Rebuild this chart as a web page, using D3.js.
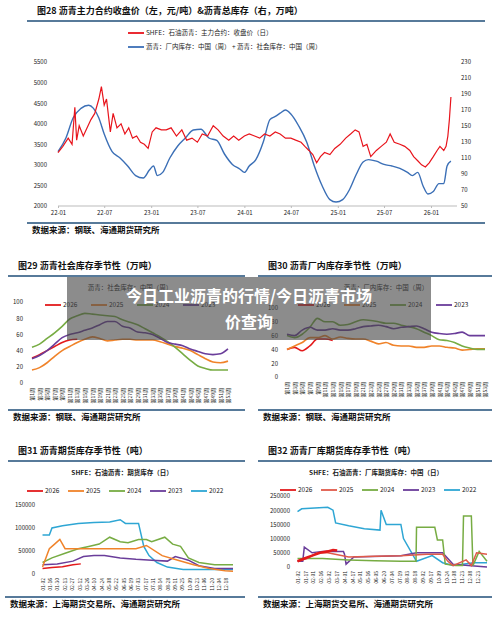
<!DOCTYPE html>
<html>
<head>
<meta charset="utf-8">
<style>
  body { margin: 0; background: #fff; }
  svg text { font-family: "Noto Sans CJK SC", "Noto Sans", sans-serif; }
  .tick text { font-size: 6px; fill: #222; }
  .domain { stroke: #bbb; }
  .tick line { stroke: #bbb; }
  .title { font-size: 9px; font-weight: 700; fill: #111; }
  .src { font-size: 8.5px; font-weight: 700; fill: #111; }
  .leg { font-size: 6.5px; fill: #222; }
</style>
</head>
<body>
<svg id="chart" width="500" height="617"></svg>
<script src="https://cdnjs.cloudflare.com/ajax/libs/d3/7.8.5/d3.min.js"></script>
<script>
// ---- fig 28: price (monthly-ish) and total inventory
var priceDates = ["2022-01-01","2022-01-20","2022-02-10","2022-02-25","2022-03-08","2022-03-15","2022-03-25","2022-04-10","2022-04-25","2022-05-10","2022-05-25","2022-06-10","2022-06-20","2022-07-01","2022-07-10","2022-07-25","2022-08-05","2022-08-20","2022-09-05","2022-09-20","2022-10-05","2022-10-20","2022-11-05","2022-11-20","2022-12-05","2022-12-20","2023-01-05","2023-01-20","2023-02-10","2023-03-01","2023-03-20","2023-04-10","2023-05-01","2023-05-20","2023-06-10","2023-07-01","2023-07-20","2023-08-10","2023-09-01","2023-09-20","2023-10-10","2023-11-01","2023-11-20","2023-12-10","2024-01-01","2024-01-20","2024-02-10","2024-03-01","2024-03-20","2024-04-10","2024-05-01","2024-05-20","2024-06-10","2024-07-01","2024-07-20","2024-08-10","2024-08-25","2024-09-10","2024-09-25","2024-10-10","2024-10-25","2024-11-10","2024-12-01","2024-12-20","2025-01-10","2025-02-01","2025-02-20","2025-03-10","2025-03-25","2025-04-10","2025-04-25","2025-05-10","2025-06-01","2025-06-20","2025-07-10","2025-07-25","2025-08-10","2025-09-01","2025-09-20","2025-10-10","2025-10-25","2025-11-10","2025-11-25","2025-12-10","2025-12-25","2026-01-10","2026-01-25","2026-02-05","2026-02-20","2026-03-01","2026-03-08","2026-03-14","2026-03-20"];
var priceVals = [3300,3450,3650,3500,4400,3600,3950,3700,3900,4100,4250,4600,4900,4450,4600,3800,4250,3900,4000,3750,3900,3650,3700,3550,3500,3400,3800,3900,3850,3850,3900,3700,3850,3600,3650,3550,3750,3700,3950,3850,3700,3600,3700,3600,3700,3750,3700,3650,3750,3700,3800,3750,3650,3650,3600,3550,3450,3350,3250,3050,3200,3300,3250,3400,3500,3650,3750,3850,3800,3450,3500,3200,3350,3450,3550,3750,3550,3500,3450,3350,3200,3100,3000,2950,3050,3200,3350,3450,3350,3450,3700,4100,4650];
var invDates = ["2022-01-01","2022-02-01","2022-03-01","2022-04-01","2022-05-01","2022-05-20","2022-06-10","2022-07-01","2022-08-01","2022-09-01","2022-10-01","2022-11-01","2022-12-01","2022-12-25","2023-01-10","2023-01-25","2023-02-15","2023-03-15","2023-04-15","2023-05-15","2023-06-15","2023-07-15","2023-08-15","2023-09-15","2023-10-15","2023-11-15","2023-12-15","2024-01-01","2024-01-20","2024-02-15","2024-03-15","2024-04-10","2024-05-01","2024-05-20","2024-06-10","2024-07-01","2024-08-01","2024-09-01","2024-10-01","2024-11-01","2024-12-01","2024-12-25","2025-01-20","2025-02-15","2025-03-15","2025-04-10","2025-05-01","2025-06-01","2025-07-01","2025-08-01","2025-09-01","2025-10-01","2025-10-20","2025-11-10","2025-12-01","2025-12-20","2026-01-10","2026-02-01","2026-02-20","2026-03-05","2026-03-20"];
var invVals = [118,135,160,172,176,172,160,140,118,110,100,88,85,95,100,88,92,110,125,135,145,146,135,132,115,102,96,92,100,108,130,158,162,166,170,165,150,130,100,75,58,55,58,70,90,105,108,106,102,100,97,92,88,92,75,65,68,78,78,100,106];
var leftTicks = [2000,2500,3000,3500,4000,4500,5000,5500];
var rightTicks = [50,70,90,110,130,150,170,190,210,230];
var monthTicks = ["2022-01-01","2022-07-01","2023-01-01","2023-07-01","2024-01-01","2024-07-01","2025-01-01","2025-07-01","2026-01-01"];

// ---- fig 29 / 30: weekly seasonal (odd weeks)
var weeks = [1,3,5,7,9,11,13,15,17,19,21,23,25,27,29,31,33,35,37,39,41,43,45,47,49,51,53];
var seasonYears = ["2026","2025","2024","2023"];
var social26 = [31,35,40,45,50,53,54];
var social25 = [16,19,25,33,40,45,50,54,57,55,52,53,54,54,53,53,53,51,48,45,43,40,35,30,26,25,27];
var social24 = [44,48,55,62,70,79,83,86,85,84,83,82,78,75,72,67,62,57,51,44,36,28,21,18,16,16,16];
var social23 = [30,34,40,48,56,60,62,65,68,72,76,76,70,68,63,62,60,55,50,48,46,42,39,36,35,36,42];
var plant26 = [40,43,38,45,55,55,53];
var plant25 = [40,45,50,57,57,60,55,58,56,55,55,52,48,50,46,45,45,43,43,45,45,43,42,39,40,41,41];
var plant24 = [60,57,62,72,85,80,80,75,76,80,83,82,80,78,78,75,73,70,65,60,54,53,50,45,42,40,40];
var plant23 = [62,60,68,72,68,68,70,68,68,70,73,74,75,73,70,72,73,74,70,65,63,62,63,65,60,60,60];

// ---- fig 31: futures inventory (day of year)
var futYears = ["2026","2025","2024","2023","2022"];
var fut26x = [2,20,40,60,75];
var fut26 = [12000,14000,16000,20000,22000];
var fut25x = [2,15,25,35,45,60,90,120,150,180,200,230,260,290,320,350,365];
var fut25 = [15000,55000,65000,75000,55000,55000,55000,55000,55000,55000,62000,40000,30000,20000,12000,7000,6000];
var fut24x = [2,20,45,70,90,110,130,150,165,185,200,210,235,250,265,280,300,330,365];
var fut24 = [25000,35000,45000,55000,60000,65000,80000,70000,68000,75000,75000,70000,80000,65000,60000,35000,25000,20000,20000];
var fut23x = [2,30,60,80,100,120,150,180,210,240,255,265,280,300,330,365];
var fut23 = [20000,22000,28000,38000,40000,40000,35000,32000,30000,28000,38000,35000,30000,18000,12000,12000];
var fut22x = [2,15,20,40,70,100,130,150,160,185,195,205,220,240,270,300,365];
var fut22 = [85000,85000,100000,105000,110000,112000,113000,118000,110000,110000,60000,40000,25000,15000,10000,10000,10000];
var futLabels = ["01-02","01-16","01-30","02-13","02-27","03-12","03-26","04-10","04-24","05-08","05-22","06-05","06-19","07-03","07-17","07-31","08-14","08-28","09-11","09-25","10-09","10-23","11-06","11-20","12-04","12-18"];

// ---- fig 32: plant warrant inventory
var pl26x = [2,15,30,45,60,70,78];
var pl26 = [20000,30000,40000,50000,55000,60000,58000];
var pl25x = [2,20,40,60,100,150,200,250,280,290,300,325,335,345,365];
var pl25 = [20000,30000,50000,50000,35000,38000,40000,45000,45000,20000,5000,25000,5000,50000,45000];
var pl24x = [2,50,100,150,200,229,230,265,270,280,285,305,318,320,335,338,350,365];
var pl24 = [30000,30000,25000,22000,20000,20000,140000,140000,95000,95000,10000,5000,5000,180000,180000,5000,55000,20000];
var pl23x = [2,12,15,30,50,90,92,95,110,200,230,280,300,365];
var pl23 = [20000,20000,70000,50000,55000,55000,45000,10000,35000,40000,50000,50000,10000,0];
var pl22x = [2,10,60,70,75,100,130,160,162,172,200,205,230,260,280,300,340,365];
var pl22 = [195000,205000,210000,200000,155000,145000,135000,130000,200000,150000,150000,100000,20000,40000,15000,5000,15000,15000];
var plLabels = ["01-02","01-17","02-01","02-16","03-02","03-17","04-01","04-17","05-01","05-16","06-05","06-20","07-04","07-19","08-03","08-18","09-02","09-17","10-09","10-24","11-08","11-23","12-08","12-23"];

var colors = { "2026": "#e31a1c", "2025": "#f0832a", "2024": "#77ac43", "2023": "#6a3d9a", "2022": "#2ea6d4" };
var svg = d3.select("#chart");
var parse = d3.timeParse("%Y-%m-%d");
var plain = d3.format("d");

function header(x1, x2, y, title) {
  svg.append("text").attr("class", "title").attr("x", x1 + 10).attr("y", y).text(title);
  svg.append("line").attr("x1", x1).attr("x2", x2).attr("y1", y + 7).attr("y2", y + 7)
    .attr("stroke", "#1f4e79").attr("stroke-width", 1.5);
}
function footer(x1, x2, y, text) {
  svg.append("line").attr("x1", x1).attr("x2", x2).attr("y1", y).attr("y2", y)
    .attr("stroke", "#1f4e79").attr("stroke-width", 1.5);
  svg.append("text").attr("class", "src").attr("x", x1 + 5).attr("y", y + 10).text(text);
}
function legend(x, y, names, cols, gap) {
  names.forEach(function(n, i) {
    var g = svg.append("g").attr("transform", "translate(" + (x + i * gap) + "," + y + ")");
    g.append("line").attr("x1", 0).attr("x2", 16).attr("stroke", cols[i]).attr("stroke-width", 1.8);
    g.append("text").attr("class", "leg").attr("x", 18).attr("y", 2.3).text(n);
  });
}

// ===== fig 28
header(27, 485, 14, "图28   沥青主力合约收盘价（左，元/吨）&沥青总库存（右，万吨）");
var x28 = d3.scaleTime().domain([parse("2022-01-01"), parse("2026-01-01")]).range([58, 431]);
var yl = d3.scaleLinear().domain([2000, 5500]).range([206, 62]);
var yr = d3.scaleLinear().domain([50, 230]).range([206, 62]);
svg.append("g").attr("transform", "translate(0,206)")
  .call(d3.axisBottom(x28).tickValues(monthTicks.map(parse)).tickFormat(d3.timeFormat("%y-%m")).tickSize(2))
  .call(function(g) { g.select(".domain").attr("d", "M58,0H457"); });
svg.append("g").attr("transform", "translate(50,0)").call(d3.axisLeft(yl).tickValues(leftTicks).tickFormat(plain).tickSize(0))
  .call(function(g) { g.select(".domain").remove(); });
svg.append("g").attr("transform", "translate(458,0)").call(d3.axisRight(yr).tickValues(rightTicks).tickSize(0))
  .call(function(g) { g.select(".domain").remove(); });
svg.append("path").datum(invDates.map(function(d, i) { return [x28(parse(d)), yr(invVals[i])]; }))
  .attr("d", d3.line().curve(d3.curveMonotoneX)).attr("fill", "none").attr("stroke", "#3b6fb6").attr("stroke-width", 1.4);
svg.append("path").datum(priceDates.map(function(d, i) { return [x28(parse(d)), yl(priceVals[i])]; }))
  .attr("d", d3.line()).attr("fill", "none").attr("stroke", "#e8141c").attr("stroke-width", 1.2);
legend(128, 33, ["SHFE：石油沥青：主力合约：收盘价（日）"], ["#e8141c"], 0);
legend(128, 47, ["沥青：厂内库存：中国（周） + 沥青：社会库存：中国（周）"], ["#3b6fb6"], 0);
footer(27, 485, 223, "数据来源：钢联、海通期货研究所");

// ===== weekly seasonal helper
function seasonal(x0, x1, yTop, yBot, series, subtitle) {
  var x = d3.scaleLinear().domain([1, 53]).range([x0, x1]);
  var y = d3.scaleLinear().domain([0, 100]).range([yBot, yTop]);
  svg.append("g").attr("transform", "translate(" + (x0 - 6) + ",0)")
    .call(d3.axisLeft(y).tickValues([0, 20, 40, 60, 80, 100]).tickSize(0))
    .call(function(g) { g.select(".domain").remove(); });
  var ax = svg.append("g").attr("transform", "translate(0," + (yBot + 3) + ")")
    .call(d3.axisBottom(x).tickValues(weeks).tickFormat(function(d) { return "第" + d + "周"; }).tickSize(0));
  ax.select(".domain").remove();
  ax.selectAll("text").attr("transform", "rotate(-90)").attr("text-anchor", "end")
    .attr("x", -2).attr("y", 0).attr("dy", "0.35em").style("font-size", "5px");
  series.forEach(function(s, i) {
    svg.append("path").datum(s.map(function(v, j) { return [x(weeks[j]), y(v)]; }))
      .attr("d", d3.line().curve(d3.curveMonotoneX)).attr("fill", "none")
      .attr("stroke", colors[seasonYears[i]]).attr("stroke-width", 1.6);
  });
  svg.append("text").attr("class", "leg").attr("x", (x0 + x1) / 2).attr("y", 290)
    .attr("text-anchor", "middle").text(subtitle);
}
header(8, 245, 269, "图29   沥青社会库存季节性（万吨）");
header(258, 492, 269, "图30   沥青厂内库存季节性（万吨）");
seasonal(32, 228, 302, 383, [social26, social25, social24, social23], "沥青：社会库存：中国（周）");
seasonal(287, 485, 308, 377, [plant26, plant25, plant24, plant23], "沥青：厂内库存：中国（周）");
legend(45, 305, seasonYears, seasonYears.map(function(k) { return colors[k]; }), 46);
legend(298, 305, seasonYears, seasonYears.map(function(k) { return colors[k]; }), 46);
footer(8, 245, 410, "数据来源：钢联、海通期货研究所");
footer(258, 492, 410, "数据来源：钢联、海通期货研究所");

// ===== daily seasonal helper
function daily(x0, x1, yTop, yBot, maxV, ticks, xs, ys, labels, stepDays, widths) {
  var x = d3.scaleLinear().domain([1, 365]).range([x0, x1]);
  var y = d3.scaleLinear().domain([0, maxV]).range([yBot, yTop]);
  svg.append("g").attr("transform", "translate(" + (x0 - 4) + ",0)")
    .call(d3.axisLeft(y).tickValues(ticks).tickFormat(plain).tickSize(0))
    .call(function(g) { g.select(".domain").remove(); });
  var ax = svg.append("g").attr("transform", "translate(0," + (yBot + 2) + ")")
    .call(d3.axisBottom(x).tickValues(labels.map(function(l, i) { return 2 + i * stepDays; }))
      .tickFormat(function(d, i) { return labels[i]; }).tickSize(0));
  ax.select(".domain").remove();
  ax.selectAll("text").attr("transform", "rotate(-90)").attr("text-anchor", "end")
    .attr("x", -2).attr("y", 0).attr("dy", "0.35em").style("font-size", "5px");
  for (var i = xs.length - 1; i >= 0; i--) {
    svg.append("path").datum(xs[i].map(function(d, j) { return [x(d), y(ys[i][j])]; }))
      .attr("d", d3.line()).attr("fill", "none")
      .attr("stroke", i === 1 && widths ? "#e05a4a" : colors[futYears[i]]).attr("stroke-width", widths ? widths[i] : 1.5);
  }
}
header(8, 245, 454, "图31   沥青期货库存季节性（吨）");
header(258, 492, 454, "图32   沥青厂库期货库存季节性（吨）");
svg.append("text").attr("class", "leg").attr("x", 122).attr("y", 475).attr("text-anchor", "middle").style("font-weight", 700).text("SHFE：石油沥青：期货库存（日）");
svg.append("text").attr("class", "leg").attr("x", 376).attr("y", 475).attr("text-anchor", "middle").style("font-weight", 700).text("SHFE：石油沥青：厂库期货库存：中国（日）");
daily(42, 233, 505, 574, 150000, [0, 50000, 100000, 150000],
  [fut26x, fut25x, fut24x, fut23x, fut22x], [fut26, fut25, fut24, fut23, fut22], futLabels, 14, null);
daily(297, 487, 496, 567, 250000, [0, 50000, 100000, 150000, 200000, 250000],
  [pl26x, pl25x, pl24x, pl23x, pl22x], [pl26, pl25, pl24, pl23, pl22], plLabels, 15, [2.6, 1.5, 1.5, 1.5, 1.5]);
legend(27, 491, futYears, futYears.map(function(k) { return colors[k]; }), 41);
legend(280, 490, futYears, ["#e31a1c", "#e05a4a", "#77ac43", "#6a3d9a", "#2ea6d4"], 41);
footer(5, 245, 597, "数据来源：上海期货交易所、海通期货研究所");
footer(258, 492, 597, "数据来源：上海期货交易所、海通期货研究所");

// ===== overlay banner
svg.append("rect").attr("x", 67).attr("y", 277).attr("width", 364).attr("height", 63).attr("fill", "rgba(70,70,70,0.62)");
svg.append("text").attr("x", 249).attr("y", 302).attr("text-anchor", "middle").attr("fill", "#fff")
  .style("font-size", "16px").style("font-weight", 700).text("今日工业沥青的行情/今日沥青市场");
svg.append("text").attr("x", 249).attr("y", 328).attr("text-anchor", "middle").attr("fill", "#fff")
  .style("font-size", "16px").style("font-weight", 700).text("价查询");
</script>
</body>
</html>
